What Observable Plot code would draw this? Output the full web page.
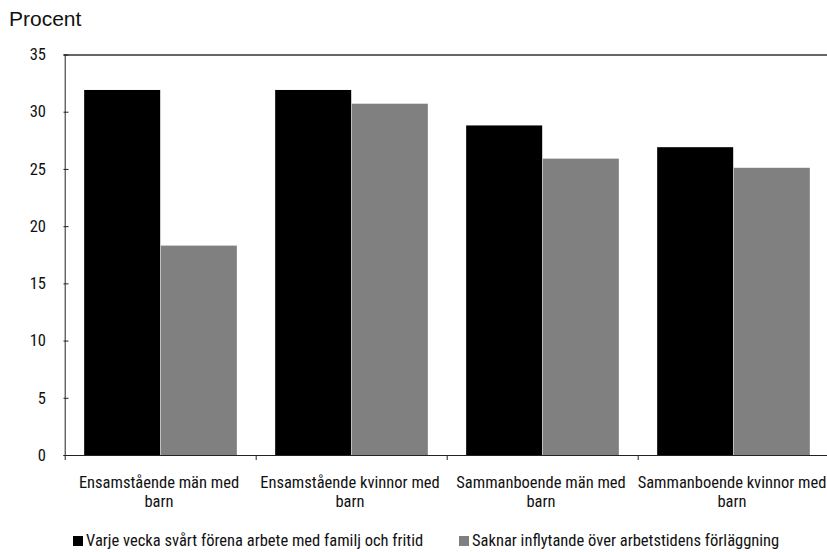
<!DOCTYPE html>
<html>
<head>
<meta charset="utf-8">
<script src="https://cdn.jsdelivr.net/npm/d3@7"></script>
<script src="https://cdn.jsdelivr.net/npm/@observablehq/plot@0.6"></script>
<style>
  html, body { margin: 0; padding: 0; background: #fff; }
  #wrap { width: 827px; height: 552px; position: relative; overflow: hidden; }
  #title { height: 40px; box-sizing: border-box; padding: 7px 0 0 9px;
           font: 21px/24px "Liberation Sans", Arial, sans-serif; color: #111; }
  #legend { position: absolute; left: 0; top: 532px; width: 827px; height: 18px;
            font: 16.5px/18px Roboto, sans-serif; font-stretch: condensed; color: #111; }
  .item { position: absolute; top: 0; white-space: nowrap; }
  .sw { display: inline-block; width: 10px; height: 10px; margin-right: 3px; vertical-align: 0px; }
</style>
</head>
<body>
<div id="wrap">
  <div id="title">Procent</div>
  <div id="chart"></div>
  <div id="legend"></div>
</div>
<script>
// Household groups along the horizontal axis
const categories = [
  "Ensamstående män med barn",
  "Ensamstående kvinnor med barn",
  "Sammanboende män med barn",
  "Sammanboende kvinnor med barn"
];
// The two survey measures (percent)
const seriesNames = [
  "Varje vecka svårt förena arbete med familj och fritid",
  "Saknar inflytande över arbetstidens förläggning"
];
const seriesColors = ["#000000", "#808080"];
const weeklyHard = [31.9, 31.9, 28.8, 26.9];
const noInfluence = [18.3, 30.7, 25.9, 25.1];
const yTicks = [0, 5, 10, 15, 20, 25, 30, 35];

const rows = categories.flatMap((c, i) => [
  {cat: c, series: seriesNames[0], value: weeklyHard[i]},
  {cat: c, series: seriesNames[1], value: noInfluence[i]}
]);

const W = 827, H = 475, mt = 14.5, mb = 60, ml = 63.5, mr = -3;
const bw = (W - ml - mr) / categories.length; // width of one group band

// Put the last word ("barn") on its own line
const wrap = d => d.replace(/ (\S+)$/, "\n$1");

const chart = Plot.plot({
  width: W,
  height: H,
  marginTop: mt,
  marginBottom: mb,
  marginLeft: ml,
  marginRight: mr,
  style: {fontFamily: "Roboto, sans-serif", fontStretch: "condensed", fontSize: "16.5px", color: "#111", background: "#fff"},
  x: {domain: categories, padding: 0},
  y: {domain: [0, 35], ticks: yTicks},
  color: {domain: seriesNames, range: seriesColors},
  marks: [
    // paired bars inside each group band
    Plot.barY(rows.filter(d => d.series === seriesNames[0]),
      {x: "cat", y: "value", fill: "series", insetLeft: 0.1 * bw, insetRight: 0.5 * bw}),
    Plot.barY(rows.filter(d => d.series === seriesNames[1]),
      {x: "cat", y: "value", fill: "series", insetLeft: 0.5 * bw, insetRight: 0.1 * bw}),
    Plot.ruleY([0], {stroke: "#222"}),
    Plot.ruleY([35], {stroke: "#333", strokeWidth: 1.5}),
    // group boundary ticks below the baseline (left edge of each band)
    Plot.ruleX(categories, {x: d => d, dx: -bw / 2, y1: 0, y2: 0, insetBottom: -5, stroke: "#222"}),
    // vertical axis line
    Plot.ruleX([categories[0]], {x: d => d, dx: -bw / 2, y1: 0, y2: 35, stroke: "#222"}),
    Plot.axisY(yTicks, {anchor: "left", tickSize: -5, tickPadding: 23, label: null, stroke: "#222"}),
    Plot.axisX({anchor: "bottom", tickSize: 0, tickPadding: 18, dx: -2, label: null, tickFormat: wrap, lineHeight: 1.2})
  ]
});
document.getElementById("chart").appendChild(chart);

const legend = document.getElementById("legend");
const lefts = [73, 459];
seriesNames.forEach((s, i) => {
  const item = document.createElement("span");
  item.className = "item";
  item.style.left = lefts[i] + "px";
  const sw = document.createElement("span");
  sw.className = "sw";
  sw.style.background = seriesColors[i];
  item.appendChild(sw);
  item.appendChild(document.createTextNode(s));
  legend.appendChild(item);
});
</script>
</body>
</html>
